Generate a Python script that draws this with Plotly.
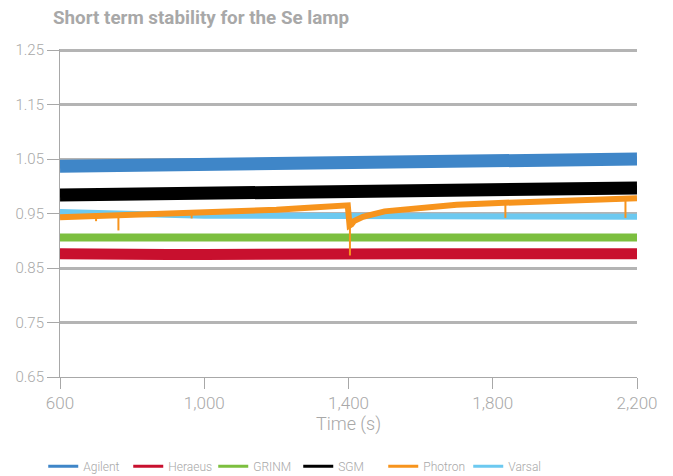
import plotly.graph_objects as go

# time axis shared by most series (s)
t = [600, 700, 800, 900, 1000, 1100, 1200, 1300, 1400, 1500, 1600, 1700, 1800, 1900, 2000, 2100, 2200]

agilent = [1.037, 1.038, 1.040, 1.041, 1.043, 1.044, 1.045, 1.046, 1.047, 1.047, 1.048, 1.048, 1.049, 1.049, 1.049, 1.050, 1.050]
heraeus = [0.876, 0.874, 0.874, 0.875, 0.875, 0.876, 0.876, 0.876, 0.876, 0.876, 0.876, 0.876, 0.876, 0.876, 0.876, 0.876, 0.876]
grinm = [0.906, 0.906, 0.906, 0.906, 0.906, 0.906, 0.906, 0.906, 0.906, 0.906, 0.906, 0.906, 0.906, 0.906, 0.906, 0.906, 0.906]
sgm = [0.984, 0.985, 0.986, 0.988, 0.989, 0.990, 0.991, 0.991, 0.992, 0.992, 0.993, 0.993, 0.994, 0.994, 0.995, 0.996, 0.997]
varsal = [0.953, 0.951, 0.948, 0.946, 0.946, 0.946, 0.946, 0.946, 0.946, 0.945, 0.945, 0.945, 0.944, 0.944, 0.944, 0.944, 0.944]

photron_t = [600, 700, 800, 900, 1000, 1100, 1200, 1300, 1398,
             1403, 1408, 1415, 1440, 1500, 1600, 1700, 1800, 1900, 2000, 2100, 2200]
photron = [0.943, 0.945, 0.947, 0.949, 0.951, 0.953, 0.957, 0.961, 0.965,
           0.928, 0.930, 0.936, 0.944, 0.954, 0.961, 0.966, 0.969, 0.971, 0.973, 0.975, 0.978]

# short downward glitches in the Photron signal: time, top, bottom
dip_t = [700, 762, 965, 1404, 1835, 2168]
dip_top = [0.945, 0.946, 0.950, 0.930, 0.969, 0.977]
dip_low = [0.936, 0.919, 0.941, 0.873, 0.942, 0.942]

names = ['Agilent', 'Heraeus', 'GRINM', 'SGM', 'Photron', 'Varsal']
colors = ['#3f86c8', '#c8102e', '#7cbf3f', '#000000', '#f7941d', '#6cc9f0']

grey = '#a8a8a8'

fig = go.Figure()

# draw order: Varsal sits under Photron
fig.add_scatter(x=t, y=varsal, mode='lines', line=dict(color=colors[5], width=6), showlegend=False)
fig.add_scatter(x=t, y=agilent, mode='lines', line=dict(color=colors[0], width=13), showlegend=False)
fig.add_scatter(x=t, y=heraeus, mode='lines', line=dict(color=colors[1], width=11), showlegend=False)
fig.add_scatter(x=t, y=grinm, mode='lines', line=dict(color=colors[2], width=8), showlegend=False)
fig.add_scatter(x=t, y=sgm, mode='lines', line=dict(color=colors[3], width=13), showlegend=False)
fig.add_scatter(x=photron_t, y=photron, mode='lines', line=dict(color=colors[4], width=6), showlegend=False)

dx, dy = [], []
for tt, a, b in zip(dip_t, dip_top, dip_low):
    dx += [tt, tt, None]
    dy += [a, b, None]
fig.add_scatter(x=dx, y=dy, mode='lines', line=dict(color=colors[4], width=2), showlegend=False)

# legend entries with thin lines
for n, c in zip(names, colors):
    fig.add_scatter(x=[None], y=[None], mode='lines', name=n, line=dict(color=c, width=3))

fig.update_xaxes(range=[600, 2200], tickvals=[600, 1000, 1400, 1800, 2200], tickformat=',',
                 showgrid=False, showline=True, linecolor=grey, linewidth=1,
                 ticks='outside', ticklen=11, tickcolor=grey,
                 tickfont=dict(family='Roboto', color=grey, size=17, weight=300),
                 title=dict(text='Time (s)', font=dict(family='Roboto', color=grey, size=18, weight=300), standoff=4),
                 zeroline=False, automargin=False)
fig.update_yaxes(range=[0.65, 1.252], tickvals=[0.65, 0.75, 0.85, 0.95, 1.05, 1.15, 1.25], tickformat='.2f',
                 showgrid=True, gridcolor='#b4b4b4', gridwidth=3,
                 showline=True, linecolor=grey, linewidth=1,
                 ticks='outside', ticklen=12, tickcolor=grey,
                 tickfont=dict(family='Roboto', color=grey, size=15, weight=300),
                 zeroline=False, automargin=False)

# page body adds an 8px offset, so the figure is 8px smaller and margins shifted
fig.update_layout(
    width=665, height=468,
    margin=dict(l=52, r=36, t=41, b=99, autoexpand=False),
    paper_bgcolor='white', plot_bgcolor='white',
    title=dict(text='<b>Short term stability for the Se lamp</b>', xref='container', x=0.0677, xanchor='left',
               yref='container', y=0.993, yanchor='top', pad=dict(t=0),
               font=dict(family='Roboto', color=grey, size=18.8)),
    legend=dict(orientation='h', xref='container', x=0.053, xanchor='left', yref='container', y=0.052, yanchor='top',
                font=dict(family='Roboto', color=grey, size=12, weight=300), entrywidth=40),
)

fig.write_html('out.html')
